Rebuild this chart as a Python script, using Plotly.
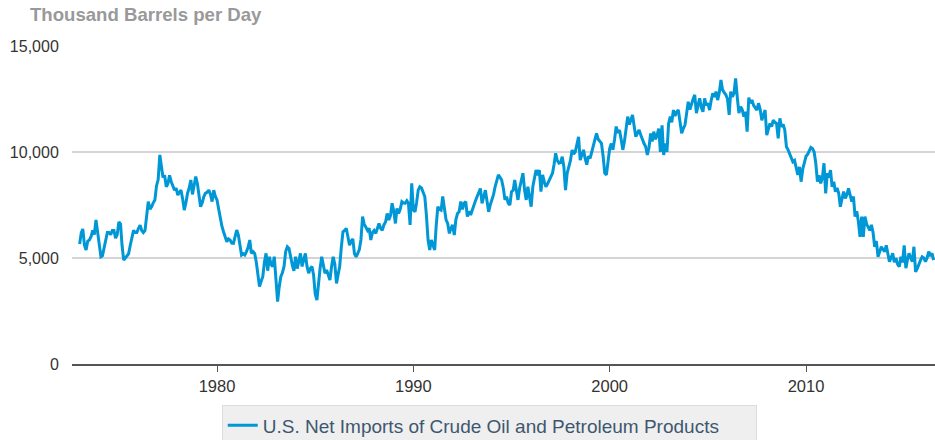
import pandas as pd
import plotly.graph_objects as go

# U.S. net imports of crude oil and petroleum products, monthly (million b/d)
imports_1970s = [
    5.66, 6.2, 6.37, 5.6, 5.38, 5.8, 5.85, 6.0, 6.3, 6.1, 6.8, 6.2,      # 1973
    5.5, 5.06, 5.1, 5.5, 5.9, 6.2, 6.2, 6.1, 6.3, 6.3, 5.94, 6.1,        # 1974
    6.7, 6.6, 5.6, 4.9, 5.0, 5.1, 5.2, 5.6, 5.9, 6.3, 6.2, 6.2,          # 1975
    6.4, 6.55, 6.3, 6.2, 6.3, 7.0, 7.66, 7.3, 7.42, 7.6, 7.74, 8.4,      # 1976
    8.7, 9.86, 9.3, 8.8, 8.9, 8.36, 8.5, 8.9, 8.6, 8.36, 8.2, 8.3,       # 1977
    7.97, 8.1, 8.2, 7.8, 7.26, 7.6, 8.05, 8.3, 8.68, 8.0, 8.4, 8.84,     # 1978
    8.5, 7.9, 7.42, 7.6, 7.9, 8.06, 8.1, 8.2, 8.0, 7.66, 8.2, 7.9,       # 1979
]
imports_1980s = [
    7.74, 7.3, 6.85, 6.5, 6.24, 6.0, 5.77, 5.9, 5.85, 5.7, 5.69, 6.0,    # 1980
    6.32, 6.08, 5.6, 5.14, 5.2, 5.14, 5.3, 5.5, 5.85, 5.22, 5.3, 5.22,   # 1981
    4.8, 4.2, 3.65, 3.9, 4.12, 4.8, 5.22, 4.4, 5.06, 4.7, 4.59, 5.06,    # 1982
    4.0, 2.94, 3.6, 4.12, 4.3, 4.6, 5.3, 5.53, 5.45, 5.0, 4.67, 4.4,     # 1983
    5.06, 4.5, 4.8, 5.22, 4.6, 4.9, 5.22, 4.6, 4.28, 4.5, 4.6, 4.2,      # 1984
    3.3, 3.02, 3.8, 4.5, 5.06, 4.7, 4.28, 4.44, 4.2, 3.96, 4.6, 5.06,    # 1985
    4.7, 3.8, 4.2, 4.6, 5.5, 6.24, 6.3, 6.4, 6.0, 5.6, 5.8, 5.9,         # 1986
    5.2, 5.06, 5.2, 5.4, 5.85, 6.95, 6.6, 6.48, 6.3, 6.4, 5.85, 6.2,     # 1987
    6.3, 6.16, 6.4, 6.63, 6.4, 6.3, 6.56, 6.7, 7.1, 6.8, 7.0, 7.58,      # 1988
    7.2, 6.63, 7.34, 7.1, 7.3, 7.66, 7.6, 7.58, 7.7, 7.58, 6.56, 8.52,   # 1989
]
imports_1990s = [
    7.26, 7.18, 7.6, 8.2, 8.36, 8.3, 8.1, 7.9, 7.0, 5.85, 5.38, 5.85,    # 1990
    5.6, 5.38, 6.5, 7.42, 7.3, 7.26, 7.9, 7.3, 6.8, 6.63, 6.16, 6.4,     # 1991
    6.56, 6.08, 6.8, 7.1, 7.18, 7.66, 7.3, 7.58, 7.66, 6.95, 7.2, 7.03,  # 1992
    7.3, 7.5, 7.7, 7.9, 8.1, 8.28, 7.58, 7.9, 8.2, 7.7, 7.18, 7.5,       # 1993
    7.74, 8.0, 8.36, 8.6, 8.92, 8.8, 8.68, 8.3, 7.74, 7.9, 7.58, 7.5,    # 1994
    8.13, 8.2, 8.68, 8.2, 7.74, 8.3, 8.68, 9.0, 8.2, 7.74, 8.36, 7.9,    # 1995
    7.42, 8.36, 8.7, 9.15, 8.9, 9.15, 8.13, 8.92, 8.6, 8.36, 8.5, 8.68,  # 1996
    8.8, 9.0, 9.4, 9.94, 9.6, 9.47, 9.5, 9.78, 9.3, 8.2, 9.0, 9.3,       # 1997
    9.6, 10.1, 9.9, 10.01, 10.4, 10.72, 9.62, 9.9, 10.1, 9.7, 9.4, 9.8,  # 1998
    9.7, 10.0, 10.3, 10.64, 10.88, 10.6, 10.5, 10.41, 9.8, 9.0, 8.92, 9.5,  # 1999
]
imports_2000s = [
    10.17, 10.4, 10.1, 10.6, 11.2, 10.9, 11.04, 10.6, 10.1, 10.5, 11.04, 11.67,   # 2000
    11.3, 11.5, 11.75, 11.2, 10.72, 10.9, 11.04, 10.8, 10.57, 10.4, 10.25, 9.86,  # 2001
    10.2, 10.88, 10.5, 10.96, 10.6, 10.8, 11.1, 10.0, 11.26, 9.86, 10.4, 10.0,    # 2002
    11.35, 11.67, 11.4, 11.98, 11.7, 11.9, 11.98, 11.5, 10.88, 11.1, 11.27, 11.8, # 2003
    12.37, 12.0, 12.3, 12.5, 12.7, 11.83, 12.2, 12.53, 12.1, 11.9, 12.53, 12.2,   # 2004
    12.3, 11.98, 12.4, 12.77, 12.6, 12.85, 12.45, 12.8, 13.4, 12.93, 12.8, 12.7,  # 2005
    12.5, 11.75, 12.85, 12.6, 12.77, 13.47, 12.6, 11.83, 12.14, 12.0, 11.67, 11.9,  # 2006
    10.96, 12.57, 12.3, 12.45, 12.2, 12.1, 11.98, 12.3, 12.0, 11.5, 11.7, 11.98,  # 2007
    10.8, 11.1, 11.35, 11.2, 11.5, 11.4, 11.35, 10.64, 11.59, 11.19, 11.3, 11.04, # 2008
    10.25, 10.1, 9.94, 9.7, 9.54, 9.6, 9.3, 8.92, 9.3, 8.6, 9.2, 9.47,           # 2009
]
imports_2010s = [
    9.8, 9.9, 10.1, 10.22, 10.17, 10.0, 9.47, 8.6, 8.9, 8.52, 8.8, 9.47,   # 2010
    8.05, 9.0, 8.8, 9.15, 8.36, 8.6, 8.13, 8.3, 8.05, 7.42, 7.8, 8.13,    # 2011
    7.81, 8.0, 8.28, 7.9, 7.66, 7.9, 6.95, 7.2, 6.71, 6.0, 6.95, 6.0,     # 2012
    6.95, 6.6, 6.48, 6.3, 6.56, 6.2, 5.53, 5.8, 5.06, 5.3, 5.53, 5.4,     # 2013
    5.3, 5.6, 5.2, 4.83, 5.0, 5.22, 4.8, 4.99, 4.7, 4.59, 5.06, 4.8,      # 2014
    5.6, 4.52, 4.9, 5.22, 5.0, 4.83, 5.53, 4.35, 4.5, 4.75, 4.9, 5.06,    # 2015
    5.0, 4.83, 5.0, 5.3, 5.1, 5.22, 4.9,                                  # 2016 (Jan-Jul)
]

series_name = "U.S. Net Imports of Crude Oil and Petroleum Products"
axis_title = "Thousand Barrels per Day"
y_tick_vals = [0, 5000, 10000, 15000]
y_tick_text = ["0", "5,000", "10,000", "15,000"]
x_tick_years = ["1980", "1990", "2000", "2010"]

values = [v * 1000 for v in imports_1970s + imports_1980s + imports_1990s + imports_2000s + imports_2010s]
dates = pd.date_range("1973-01-01", periods=len(values), freq="MS")

LINE = "#0097D6"
FONT = "Liberation Sans, Arial, sans-serif"

fig = go.Figure()
fig.add_trace(go.Scatter(
    x=dates, y=values, mode="lines",
    name=series_name + "\u00a0" * 6,
    line=dict(color=LINE, width=3), hoverinfo="x+y",
))

fig.update_layout(
    width=935, height=440,
    margin=dict(l=72, r=0, t=46, b=76, autoexpand=False),
    paper_bgcolor="white", plot_bgcolor="white",
    font=dict(family=FONT, size=16, color="#333333"),
    title=dict(
        text="<b>" + axis_title + "</b>",
        x=30 / 935, xanchor="left", xref="container",
        y=1 - 14 / 440, yanchor="middle", yref="container",
        font=dict(family=FONT, size=18.6, color="#999999"),
    ),
    showlegend=True,
    legend=dict(
        orientation="h", x=0.1735, xanchor="left", y=-0.13, yanchor="top",
        bgcolor="#efefef", bordercolor="#dcdcdc", borderwidth=1,
        font=dict(family=FONT, size=19, color="#3E576F"),
        itemwidth=30,
    ),
    xaxis=dict(
        type="date",
        range=["1972-08-12", "2016-07-27"],
        tickvals=[pd.Timestamp(y + "-01-01") for y in x_tick_years],
        ticktext=x_tick_years,
        showgrid=False, zeroline=False,
        showline=True, linecolor="#555555", linewidth=2,
        ticks="outside", ticklen=6, tickcolor="#555555", tickwidth=1,
        tickfont=dict(size=16.5, color="#333333"),
    ),
    yaxis=dict(
        range=[0, 15000],
        tickvals=y_tick_vals, ticktext=y_tick_text,
        showgrid=True, gridcolor="#d4d4d4", gridwidth=1.5,
        zeroline=False, showline=False,
        ticks="outside", ticklen=9, tickcolor="rgba(0,0,0,0)",
        tickfont=dict(size=16, color="#333333"),
    ),
)

fig.write_html(
    "out.html",
    config={"displayModeBar": False},
    post_script="document.body.style.margin='0';document.body.style.overflow='hidden';",
)
